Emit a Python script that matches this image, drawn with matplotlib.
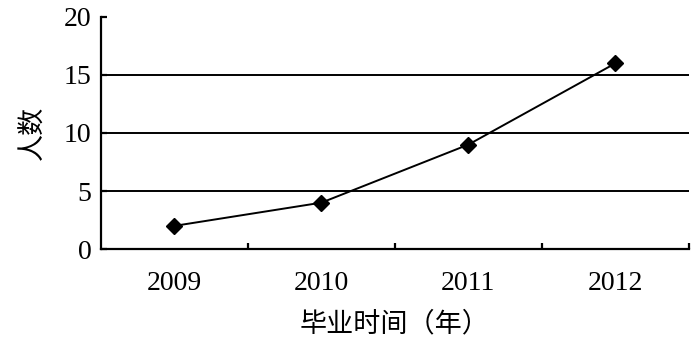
import matplotlib
matplotlib.use("Agg")
import matplotlib.pyplot as plt

years = ["2009", "2010", "2011", "2012"]
counts = [2, 4, 9, 16]
y_ticks = [0, 5, 10, 15, 20]
x_label = "毕业时间（年）"
y_label = "人数"

plt.rcParams["font.family"] = ["Liberation Serif", "Noto Sans CJK SC"]

fig = plt.figure(figsize=(7, 3.45), dpi=100)
ax = fig.add_axes([0.1443, 0.278, 0.8397, 0.673])

x = list(range(len(years)))
for y in y_ticks[1:-1]:
    ax.axhline(y, color="black", linewidth=1.4, zorder=1)

ax.plot(x, counts, color="black", linewidth=1.4, marker="D",
        markersize=8.5, zorder=3, clip_on=False)

ax.set_xlim(-0.5, len(years) - 0.5)
ax.set_ylim(0, 20)
ax.set_yticks(y_ticks)
ax.set_xticks(x)
ax.set_xticklabels(years)
ax.set_xticks([i + 0.5 for i in x], minor=True)

ax.spines["top"].set_visible(False)
ax.spines["right"].set_visible(False)
ax.spines["left"].set_linewidth(1.6)
ax.spines["bottom"].set_linewidth(1.6)

ax.tick_params(axis="y", direction="in", length=4, width=1.6,
               labelsize=20, pad=7)
ax.tick_params(axis="x", which="major", length=0, labelsize=20, pad=16)
ax.tick_params(axis="x", which="minor", direction="in", length=4, width=1.6)

ax.set_xlabel(x_label, family="Noto Sans CJK SC", fontsize=19.5, labelpad=10)
ax.set_ylabel(y_label, family="Noto Sans CJK SC", fontsize=19.5, labelpad=12)

fig.savefig("out.png", dpi=100)
